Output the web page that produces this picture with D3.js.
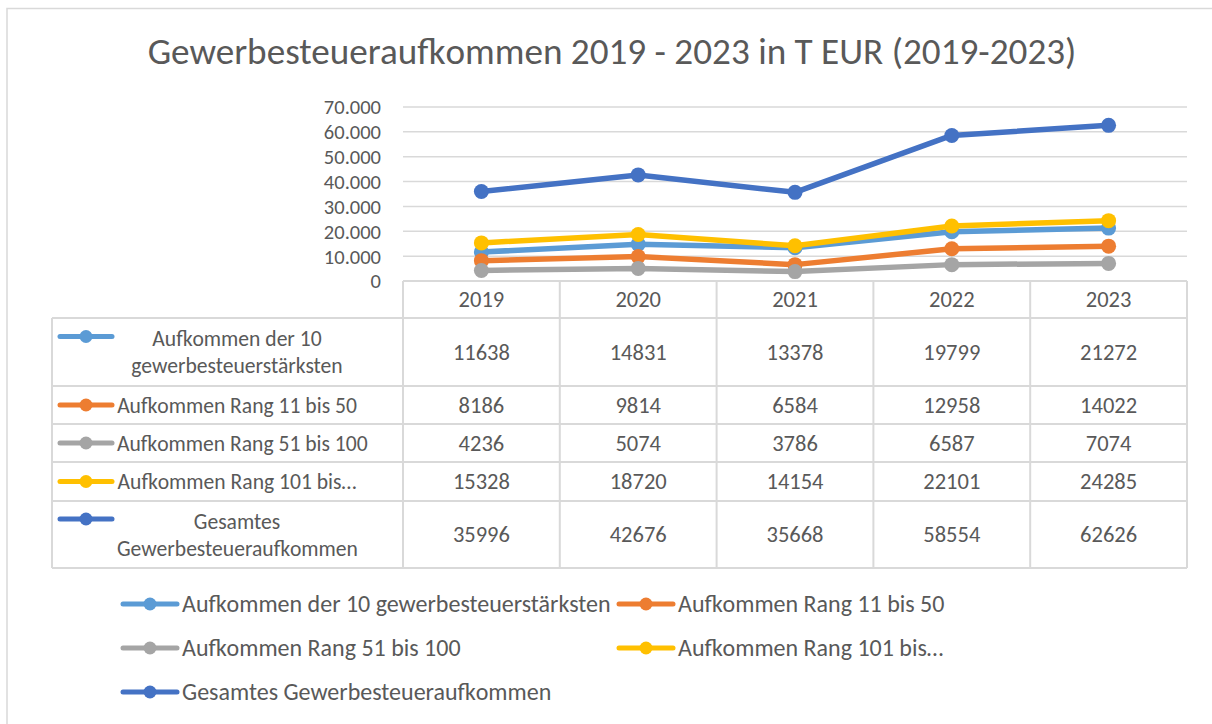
<!DOCTYPE html>
<html><head><meta charset="utf-8">
<script src="https://cdn.jsdelivr.net/npm/d3@7"></script>
<style>
html,body{margin:0;padding:0;background:#fff;overflow:hidden;}
svg{display:block;}
svg text{font-family:Carlito,Calibri,"Liberation Sans",Arial,sans-serif;fill:#595959;}
</style></head>
<body>
<svg id="chart" width="1212" height="724"></svg>
<script>
const title = "Gewerbesteueraufkommen 2019 - 2023 in T EUR (2019-2023)";
const years = ["2019","2020","2021","2022","2023"];
const seriesNames = [
  "Aufkommen der 10 gewerbesteuerstärksten",
  "Aufkommen Rang 11 bis 50",
  "Aufkommen Rang 51 bis 100",
  "Aufkommen Rang 101 bis…",
  "Gesamtes Gewerbesteueraufkommen"
];
const tableLabels = [
  ["Aufkommen der 10","gewerbesteuerstärksten"],
  ["Aufkommen Rang 11 bis 50"],
  ["Aufkommen Rang 51 bis 100"],
  ["Aufkommen Rang 101 bis…"],
  ["Gesamtes","Gewerbesteueraufkommen"]
];
const top10 = [11638,14831,13378,19799,21272];
const rang11_50 = [8186,9814,6584,12958,14022];
const rang51_100 = [4236,5074,3786,6587,7074];
const rang101 = [15328,18720,14154,22101,24285];
const gesamt = [35996,42676,35668,58554,62626];
const seriesValues = [top10, rang11_50, rang51_100, rang101, gesamt];
const colors = ["#5B9BD5","#ED7D31","#A5A5A5","#FFC000","#4472C4"];
const yTicks = [0,10000,20000,30000,40000,50000,60000,70000];

const svg = d3.select("#chart");
const grid = "#d9d9d9";
const loc = d3.formatLocale({decimal:",",thousands:".",grouping:[3],currency:["","€"]});
const fmt = loc.format(",d");

// outer frame
svg.append("rect").attr("x",7).attr("y",8.5).attr("width",1240).attr("height",740)
  .attr("fill","none").attr("stroke",grid).attr("stroke-width",1.5);

// title
const t = svg.append("text").attr("x",612).attr("y",64).attr("text-anchor","middle")
  .attr("font-size",31).text(title);
(function(){const w=t.node().getComputedTextLength(); t.attr("font-size",31*929/w);})();

const L=403, R=1187, T=107, B=281;
const x = d3.scaleBand().domain(years).range([L,R]);
const y = d3.scaleLinear().domain([0,70000]).range([B,T]);

// gridlines
svg.append("g").selectAll("line").data(yTicks.filter(d=>d>0)).join("line")
  .attr("x1",L).attr("x2",R).attr("y1",d=>y(d)).attr("y2",d=>y(d))
  .attr("stroke",grid).attr("stroke-width",1.5);

// y axis
const yAxis = d3.axisLeft(y).tickValues(yTicks).tickFormat(d=>d===0?"0":fmt(d)).tickSize(0).tickPadding(22);
const ya = svg.append("g").attr("transform",`translate(${L},0)`).call(yAxis);
ya.select(".domain").remove();
ya.selectAll("text").attr("font-size",20.5).attr("fill","#595959").style("font-family","Carlito,Calibri,'Liberation Sans',Arial,sans-serif").attr("dy","0.34em");

// table
const rowsY = [281,318,386,424,462,501,568];
const tblL = 52;
const tg = svg.append("g");
tg.selectAll("line.h").data(rowsY).join("line").attr("class","h")
  .attr("x1",(d,i)=>i===0?L:tblL).attr("x2",R).attr("y1",d=>d).attr("y2",d=>d)
  .attr("stroke",grid).attr("stroke-width",2);
const vx = years.map(d=>x(d)).concat([R]);
tg.selectAll("line.v").data(vx).join("line").attr("class","v")
  .attr("x1",d=>d).attr("x2",d=>d).attr("y1",B).attr("y2",rowsY[6])
  .attr("stroke",grid).attr("stroke-width",2);
tg.append("line").attr("x1",tblL).attr("x2",tblL).attr("y1",rowsY[1]).attr("y2",rowsY[6])
  .attr("stroke",grid).attr("stroke-width",2);

const valFs = 22.5, labFs = 21.6, legFs = 24;
tg.selectAll("text.yr").data(years).join("text").attr("class","yr")
  .attr("x",d=>x(d)+x.bandwidth()/2).attr("y",(rowsY[0]+rowsY[1])/2).attr("dy","0.35em")
  .attr("text-anchor","middle").attr("font-size",valFs).text(d=>d);

seriesValues.forEach((vals,i)=>{
  const r0=rowsY[i+1], r1=rowsY[i+2], cy=(r0+r1)/2;
  vals.forEach((v,j)=>{
    tg.append("text").attr("x",x(years[j])+x.bandwidth()/2).attr("y",cy).attr("dy","0.35em")
      .attr("text-anchor","middle").attr("font-size",valFs).text(v);
  });
  const lines = tableLabels[i];
  const lh = 27;
  const keyY = lines.length>1 ? cy - lh/2 - 2 : cy;
  tg.append("line").attr("x1",60).attr("x2",112).attr("y1",keyY).attr("y2",keyY)
    .attr("stroke",colors[i]).attr("stroke-width",5).attr("stroke-linecap","round");
  tg.append("circle").attr("cx",86).attr("cy",keyY).attr("r",6.5).attr("fill",colors[i]);
  lines.forEach((ln,k)=>{
    const ty = cy + (k-(lines.length-1)/2)*lh;
    const te = tg.append("text").attr("y",ty).attr("dy","0.35em").attr("font-size",labFs).text(ln);
    const w = te.node().getComputedTextLength();
    te.attr("x", Math.max(117, 237 - w/2));
  });
});

// series lines
const line = d3.line().x((d,i)=>x(years[i])+x.bandwidth()/2).y(d=>y(d));
const sg = svg.append("g");
seriesValues.forEach((vals,i)=>{
  sg.append("path").attr("d",line(vals)).attr("fill","none").attr("stroke",colors[i])
    .attr("stroke-width",5.5).attr("stroke-linejoin","round").attr("stroke-linecap","round");
  sg.selectAll(null).data(vals).join("circle")
    .attr("cx",(d,j)=>x(years[j])+x.bandwidth()/2).attr("cy",d=>y(d)).attr("r",7.5).attr("fill",colors[i]);
});

// legend
const legPos = [[120,604],[616,604],[120,648],[616,648],[120,692]];
const lg = svg.append("g");
seriesNames.forEach((n,i)=>{
  const [lx,ly]=legPos[i];
  lg.append("line").attr("x1",lx+3).attr("x2",lx+57).attr("y1",ly).attr("y2",ly)
    .attr("stroke",colors[i]).attr("stroke-width",5).attr("stroke-linecap","round");
  lg.append("circle").attr("cx",lx+30).attr("cy",ly).attr("r",6.5).attr("fill",colors[i]);
  lg.append("text").attr("x",lx+62).attr("y",ly).attr("dy","0.35em").attr("font-size",legFs).text(n);
});
</script>
</body></html>
